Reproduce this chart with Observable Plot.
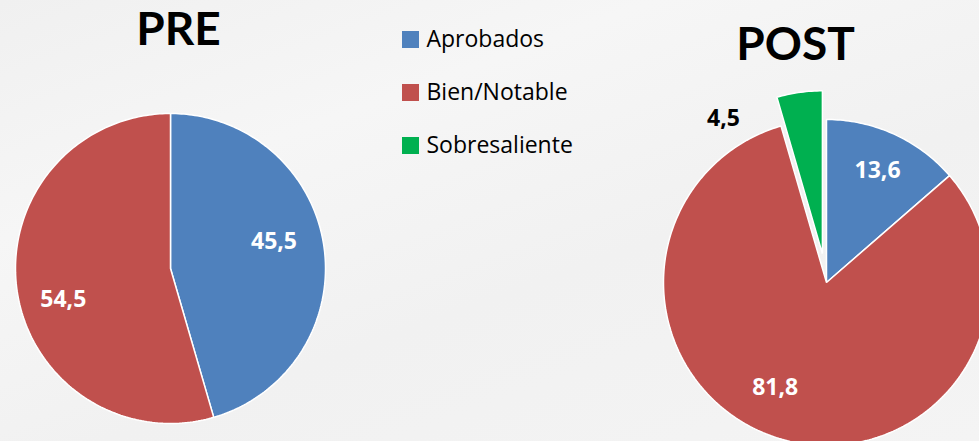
<!DOCTYPE html>
<html><head><meta charset="utf-8">
<script src="https://cdn.jsdelivr.net/npm/d3@7"></script>
<script src="https://cdn.jsdelivr.net/npm/@observablehq/plot@0.6"></script>
<style>
html,body{margin:0;padding:0;overflow:hidden;background:#f2f2f2}
body{background:linear-gradient(160deg,#f0f0f0 0%,#f6f6f6 30%,#f1f1f1 60%,#f4f4f4 100%)}
svg{display:block}
</style>
</head><body><div id="chart"></div>
<script>
// ---- data ----
const categories = ["Aprobados", "Bien/Notable", "Sobresaliente"];
const colors = ["#4F81BD", "#C0504D", "#00B050"];
const panels = ["PRE", "POST"];
const preValues = [45.5, 54.5, 0];
const postValues = [13.6, 81.8, 4.5];
const preLabels = ["45,5", "54,5", ""];
const postLabels = ["13,6", "81,8", "4,5"];

// ---- layout ----
const W = 979, H = 441;
const titleFont = "Lato, 'Noto Sans', sans-serif";
const font = "'Open Sans', Lato, 'Noto Sans', sans-serif";
const layout = {
  PRE:  {cx: 170, cy: 268, r: 155, explode: [0, 0, 0], labelR: [0.69, 0.72, 0.7], labelShift: [-6.5, -8, 0], outside: [false, false, false], title: [178, 30]},
  POST: {cx: 826, cy: 282, r: 163, explode: [0, 0, 29], labelR: [0.755, 0.716, 1.03], labelShift: [0, 9.7, -28], outside: [false, false, true], title: [795, 45]}
};
const valuesBy = {PRE: preValues, POST: postValues};
const labelsBy = {PRE: preLabels, POST: postLabels};

const pie = d3.pie().sort(null).value(d => d);
const pts = [], labels = [];
for (const name of panels) {
  const L = layout[name];
  const arcs = pie(valuesBy[name]);
  arcs.forEach((a, i) => {
    if (a.value <= 0) return;
    const mid = (a.startAngle + a.endAngle) / 2;
    const ox = L.cx + L.explode[i] * Math.sin(mid);
    const oy = L.cy - L.explode[i] * Math.cos(mid);
    const key = name + i;
    pts.push({key, category: categories[i], x: ox, y: oy});
    const n = Math.max(2, Math.ceil((a.endAngle - a.startAngle) / (Math.PI / 180)));
    for (let k = 0; k <= n; k++) {
      const t = a.startAngle + (a.endAngle - a.startAngle) * k / n;
      pts.push({key, category: categories[i], x: ox + L.r * Math.sin(t), y: oy - L.r * Math.cos(t)});
    }
    const la = mid + L.labelShift[i] * Math.PI / 180;
    const lr = L.r * L.labelR[i];
    labels.push({text: labelsBy[name][i], x: ox + lr * Math.sin(la), y: oy - lr * Math.cos(la), fill: L.outside[i] ? "#000" : "#fff"});
  });
}
const titles = panels.map(p => ({text: p, x: layout[p].title[0], y: layout[p].title[1]}));
const legend = categories.map((c, i) => ({category: c, x: 410, y: 39 + i * 53}));

const chart = Plot.plot({
  width: W, height: H, margin: 0,
  x: {domain: [0, W], range: [0, W], axis: null},
  y: {domain: [0, H], range: [0, H], axis: null},
  color: {domain: categories, range: colors},
  style: {background: "transparent", fontFamily: font},
  marks: [
    Plot.line(pts, {x: "x", y: "y", z: "key", fill: "category", stroke: "white", strokeWidth: 1.5, strokeLinejoin: "miter", curve: "linear-closed"}),
    Plot.text(labels, {x: "x", y: "y", text: "text", fill: "fill", fontSize: 23, fontWeight: "bold"}),
    Plot.text(titles, {x: "x", y: "y", text: "text", fill: "#000", fontSize: 46, fontWeight: "bold", fontFamily: titleFont}),
    Plot.dot(legend, {x: "x", y: "y", symbol: "square", r: 9.6, fill: "category", stroke: null}),
    Plot.text(legend, {x: d => d.x + 16, y: "y", text: "category", textAnchor: "start", fill: "#000", fontSize: 23})
  ]
});
document.getElementById("chart").appendChild(chart);
</script>
</body></html>
